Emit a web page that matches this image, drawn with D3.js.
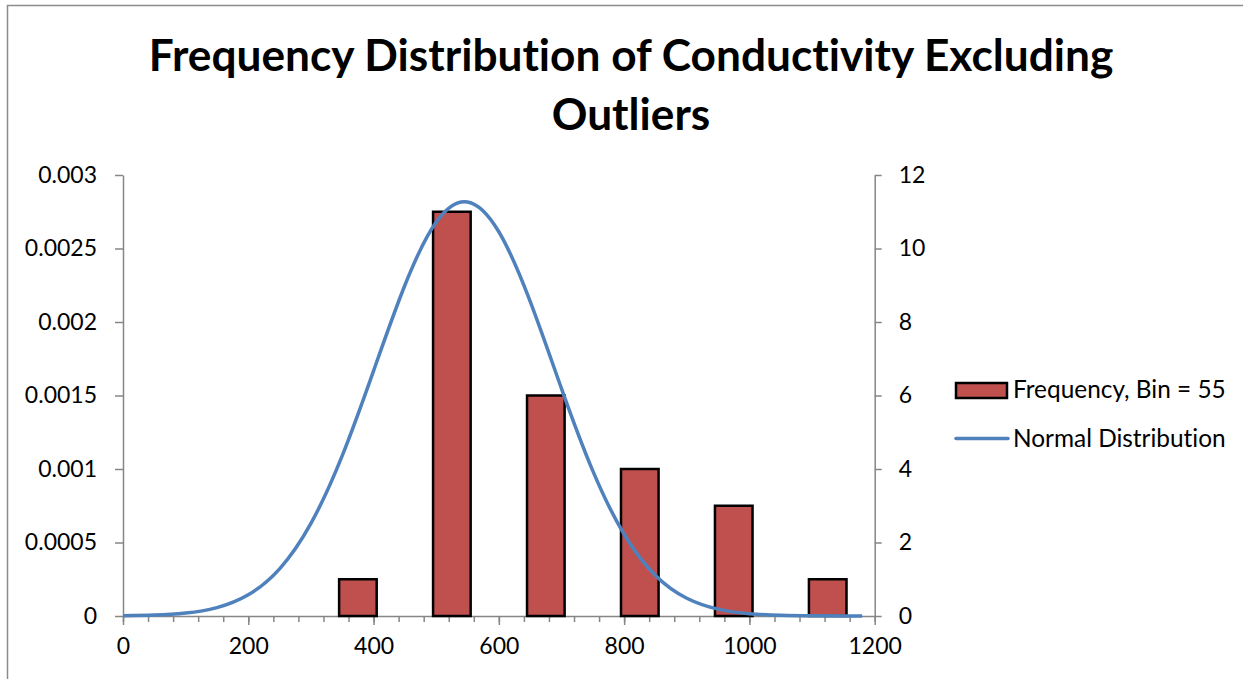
<!DOCTYPE html>
<html>
<head>
<meta charset="utf-8">
<script src="https://cdn.jsdelivr.net/npm/d3@7"></script>
<style>
  body { margin: 0; background: #fff; }
  svg { display: block; font-family: Lato, "Open Sans", sans-serif; font-variant-ligatures: none; }
  .axis path, .axis line { stroke: #868686; stroke-width: 1.5; }
  .axis text { fill: #000; font-size: 23px; font-family: Lato, sans-serif; }
</style>
</head>
<body>
<svg width="1253" height="679"></svg>
<script>
// bins of the histogram (centre of each bin) and counts
let binCenters = [375, 525, 675, 825, 975, 1125];
let frequency = [1, 11, 6, 4, 3, 1];
let binWidth = 60;

// normal distribution curve
let normX = [0, 50, 100, 150, 200, 250, 300, 350, 400, 450, 500, 550, 600,
             650, 700, 750, 800, 850, 900, 950, 1000, 1050, 1100, 1150, 1180];
let normY = [0.0000017, 0.0000062, 0.0000201, 0.0000572, 0.0001443, 0.000321,
             0.00063, 0.001091, 0.001668, 0.00225, 0.00268, 0.002817, 0.002614,
             0.00214, 0.001547, 0.000987, 0.000556, 0.000276, 0.000121,
             0.0000469, 0.000016, 0.0000048, 0.0000013, 0.0000003, 0.0000001];

let xTicks = [0, 200, 400, 600, 800, 1000, 1200];
let leftTicks = [0, 0.0005, 0.001, 0.0015, 0.002, 0.0025, 0.003];
let rightTicks = [0, 2, 4, 6, 8, 10, 12];

let svg = d3.select('svg');

// outer frame (left and top edges visible)
svg.append('path')
  .attr('d', 'M7.5,679 L7.5,5.5 L1243,5.5')
  .attr('fill', 'none')
  .attr('stroke', '#8c8c8c')
  .attr('stroke-width', 1.5);

// title
let title = svg.append('text')
  .attr('text-anchor', 'middle')
  .attr('font-weight', 'bold')
  .attr('font-size', 40)
  .style('font-family', 'Lato, sans-serif');
title.append('tspan').attr('x', 631).attr('y', 71).text('Frequency Distribution of Conductivity Excluding');
title.append('tspan').attr('x', 631).attr('y', 130).text('Outliers');
let tw = title.select('tspan').node().getComputedTextLength();
title.attr('font-size', 40 * 965 / tw);

let x = d3.scaleLinear().domain([0, 1200]).range([123, 874.7]);
let yL = d3.scaleLinear().domain([0, 0.003]).range([616, 175]);
let yR = d3.scaleLinear().domain([0, 12]).range([616, 175]);

// minor x ticks
svg.append('g')
  .attr('class', 'axis')
  .attr('transform', 'translate(0,616)')
  .call(d3.axisBottom(x).tickValues(d3.range(0, 1201, 40)).tickSize(6).tickFormat(''))
  .call(g => g.select('.domain').remove());

svg.append('g')
  .attr('class', 'axis')
  .attr('transform', 'translate(0,616)')
  .call(d3.axisBottom(x).tickValues(xTicks).tickSize(9).tickSizeOuter(0).tickPadding(13).tickFormat(d3.format('d')));

svg.append('g')
  .attr('class', 'axis')
  .attr('transform', 'translate(123,0)')
  .call(d3.axisLeft(yL).tickValues(leftTicks).tickSize(8).tickSizeOuter(0).tickPadding(18)
    .tickFormat(d => d === 0 ? '0' : String(+d.toFixed(4))));

svg.append('g')
  .attr('class', 'axis')
  .attr('transform', 'translate(874.7,0)')
  .call(d3.axisRight(yR).tickValues(rightTicks).tickSize(7).tickSizeOuter(0).tickPadding(17));

// bars
svg.append('g')
  .selectAll('rect')
  .data(frequency)
  .enter()
  .append('rect')
  .attr('x', (d, i) => x(binCenters[i] - binWidth / 2))
  .attr('y', d => yR(d))
  .attr('width', x(binWidth) - x(0))
  .attr('height', d => yR(0) - yR(d))
  .attr('fill', '#C0504D')
  .attr('stroke', '#000')
  .attr('stroke-width', 2.5);

// normal curve
let line = d3.line()
  .x((d, i) => x(normX[i]))
  .y(d => yL(d))
  .curve(d3.curveNatural);

svg.append('path')
  .datum(normY)
  .attr('fill', 'none')
  .attr('stroke', '#4F81BD')
  .attr('stroke-width', 3.5)
  .attr('d', line);

// legend
let legend = svg.append('g');
legend.append('rect')
  .attr('x', 956).attr('y', 383)
  .attr('width', 51).attr('height', 15)
  .attr('fill', '#C0504D').attr('stroke', '#000').attr('stroke-width', 2.5);
legend.append('text')
  .attr('x', 1013).attr('y', 398)
  .attr('font-size', 24.4)
  .text('Frequency, Bin = 55');
legend.append('line')
  .attr('x1', 956).attr('x2', 1008)
  .attr('y1', 438.5).attr('y2', 438.5)
  .attr('stroke', '#4F81BD').attr('stroke-width', 3.5).attr('stroke-linecap', 'round');
legend.append('text')
  .attr('x', 1013).attr('y', 447)
  .attr('font-size', 24.4)
  .text('Normal Distribution');
</script>
</body>
</html>
